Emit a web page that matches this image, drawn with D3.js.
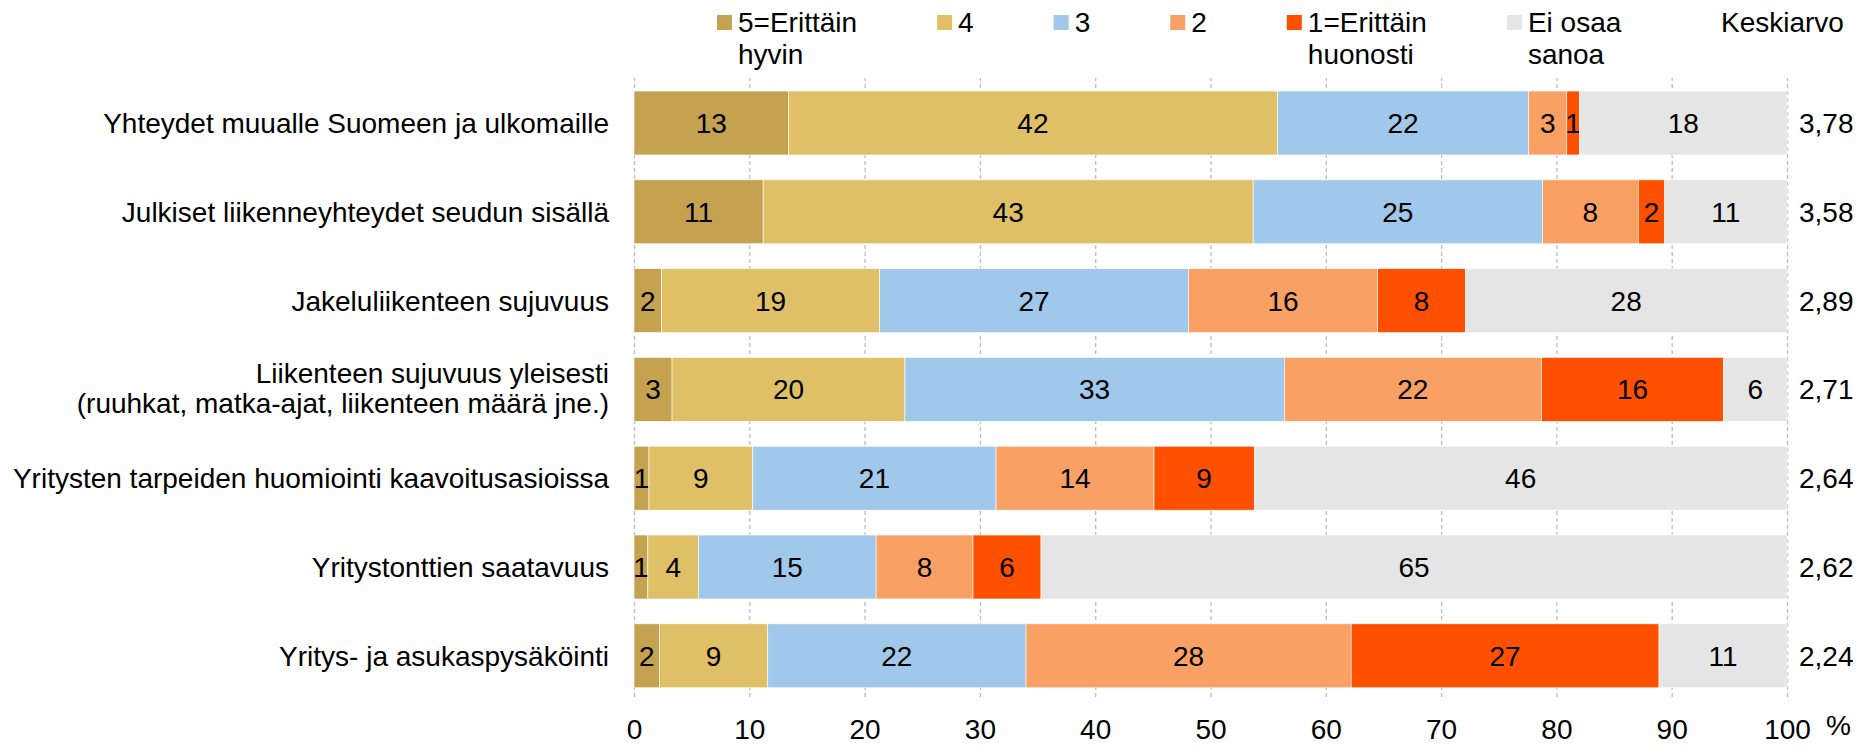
<!DOCTYPE html>
<html>
<head>
<meta charset="utf-8">
<script src="https://cdn.jsdelivr.net/npm/d3@7"></script>
<style>
  body { margin: 0; background: #fff; }
  svg text { font-family: "Liberation Sans", Arial, sans-serif; font-size: 28px; fill: #000; }
</style>
</head>
<body>
<svg id="chart" width="1865" height="746"></svg>
<script>
const categories = [
  ["Yhteydet muualle Suomeen ja ulkomaille"],
  ["Julkiset liikenneyhteydet seudun sisällä"],
  ["Jakeluliikenteen sujuvuus"],
  ["Liikenteen sujuvuus yleisesti", "(ruuhkat, matka-ajat, liikenteen määrä jne.)"],
  ["Yritysten tarpeiden huomiointi kaavoitusasioissa"],
  ["Yritystonttien saatavuus"],
  ["Yritys- ja asukaspysäköinti"]
]

// shares in %
const s5  = [13.4, 11.2, 2.4, 3.3, 1.3, 1.2, 2.2]
const s4  = [42.4, 42.5, 18.9, 20.2, 9.0, 4.4, 9.4]
const s3  = [21.8, 25.1, 26.8, 32.9, 21.1, 15.4, 22.4]
const s2  = [3.3, 8.3, 16.4, 22.3, 13.7, 8.4, 28.2]
const s1  = [1.1, 2.3, 7.6, 15.8, 8.7, 5.9, 26.7]
const sEi = [18.0, 10.6, 27.9, 5.5, 46.2, 64.7, 11.1]

const means = ["3,78", "3,58", "2,89", "2,71", "2,64", "2,62", "2,24"]

const seriesNames = [["5=Erittäin", "hyvin"], ["4"], ["3"], ["2"], ["1=Erittäin", "huonosti"], ["Ei osaa", "sanoa"]]
const colors = ["#c4a250", "#e0c067", "#9fc8ea", "#f9a064", "#ff5000", "#e5e5e5"]
const xTicks = [0, 10, 20, 30, 40, 50, 60, 70, 80, 90, 100]

const svg = d3.select('#chart')

const keys = ["k5", "k4", "k3", "k2", "k1", "kEi"]
const rows = categories.map((c, i) => ({
  idx: i,
  k5: s5[i], k4: s4[i], k3: s3[i], k2: s2[i], k1: s1[i], kEi: sEi[i]
}))
const stacked = d3.stack().keys(keys)(rows)

const x = d3.scaleLinear().domain([0, 100]).range([634, 1787])
const y = d3.scaleBand().domain(d3.range(categories.length)).range([78.6, 700.2])
  .paddingInner(0.28).paddingOuter(0.14)

// gridlines + tick labels
const axis = svg.append('g')
  .attr('transform', 'translate(0,697)')
  .call(d3.axisBottom(x).tickValues(xTicks).tickSize(-619).tickPadding(22).tickFormat(d3.format('d')))
axis.select('.domain').remove()
axis.selectAll('.tick line')
  .attr('stroke', '#bdbdbd')
  .attr('stroke-width', 1.3)
  .attr('stroke-dasharray', '4,3')
axis.selectAll('.tick text')
  .attr('fill', '#000')
  .style('font-size', '28px')
  .style('font-family', '"Liberation Sans", Arial, sans-serif')

svg.append('text').attr('x', 1826).attr('y', 735).text('%')

// bars
const layers = svg.selectAll('g.layer')
  .data(stacked)
  .enter()
  .append('g')
  .attr('class', 'layer')
  .attr('fill', (d, i) => colors[i])

layers.selectAll('rect')
  .data(d => d)
  .enter()
  .append('rect')
  .attr('x', d => x(d[0]))
  .attr('width', d => x(d[1]) - x(d[0]))
  .attr('y', (d, i) => y(i))
  .attr('height', y.bandwidth())
  .attr('stroke', '#fff')
  .attr('stroke-width', 0.6)

layers.selectAll('text')
  .data(d => d)
  .enter()
  .append('text')
  .attr('x', d => (x(d[0]) + x(d[1])) / 2)
  .attr('y', (d, i) => y(i) + y.bandwidth() / 2 + 10)
  .attr('text-anchor', 'middle')
  .text(d => Math.round(d[1] - d[0]))

// category labels
categories.forEach((lines, i) => {
  const cy = y(i) + y.bandwidth() / 2
  const t = svg.append('text').attr('text-anchor', 'end')
  lines.forEach((line, j) => {
    const base = lines.length === 1 ? cy + 10 : cy - 6 + j * 30
    t.append('tspan').attr('x', 609).attr('y', base).text(line)
  })
})

// means
svg.selectAll('text.mean')
  .data(means)
  .enter()
  .append('text')
  .attr('class', 'mean')
  .attr('x', 1799)
  .attr('y', (d, i) => y(i) + y.bandwidth() / 2 + 10)
  .text(d => d)

// legend
let lx = 717
seriesNames.forEach((lines, i) => {
  const g = svg.append('g')
  g.append('rect')
    .attr('x', lx).attr('y', 15)
    .attr('width', 15).attr('height', 15)
    .attr('fill', colors[i])
  const t = g.append('text')
  lines.forEach((line, j) => {
    t.append('tspan').attr('x', lx + 21).attr('y', 32 + j * 32).text(line)
  })
  const w = d3.max(t.selectAll('tspan').nodes(), n => n.getComputedTextLength())
  lx += 21 + w + 80
})
svg.append('text').attr('x', 1721).attr('y', 32).text('Keskiarvo')
</script>
</body>
</html>
